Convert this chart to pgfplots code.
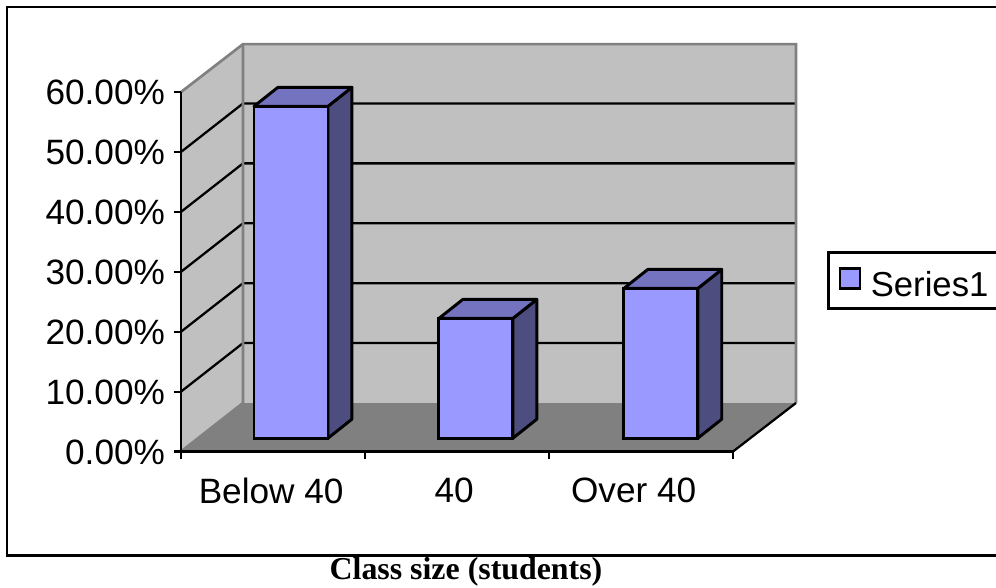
\documentclass[border=0pt]{standalone}
\usepackage{fontspec}
\setmainfont{Liberation Sans}
\newfontfamily\titlefont{Liberation Serif}
\usepackage{pgfplots}
\pgfplotsset{compat=1.18}

\definecolor{wall}{HTML}{C0C0C0}
\definecolor{floorc}{HTML}{808080}
\definecolor{barfront}{HTML}{9999FF}
\definecolor{bartop}{HTML}{7373BF}
\definecolor{barside}{HTML}{4D4D80}

\begin{document}
\begin{tikzpicture}[x=0.75pt,y=0.75pt]
\path[use as bounding box] (0,0) rectangle (996,587);
\draw[line width=2.2pt] (1100,580) -- (7,580) -- (7,31.5) -- (1100,31.5);
\node[font=\titlefont\bfseries\fontsize{23.9}{28}\selectfont] at (466,15) {Class size (students)};
\begin{axis}[
  at={(135.75pt,101.6pt)},
  anchor=south west,
  scale only axis,
  width=414pt,
  height=269.6pt,
  xmin=0, xmax=3,
  ymin=0, ymax=60,
  clip=false,
  axis on top,
  axis lines*=left,
  axis line style={line width=2.2pt},
  tick style={black, line width=1.6pt},
  tick align=outside,
  major tick length=5.5pt,
  ytick={0,10,20,30,40,50,60},
  yticklabels={0.00\%,10.00\%,20.00\%,30.00\%,40.00\%,50.00\%,60.00\%},
  y tick label style={xshift=-3pt, yshift=-0.5pt},
  xtick={0,1,2,3},
  xticklabels={},
  extra x ticks={0.49,1.485,2.46},
  extra x tick labels={Below 40,40,Over 40},
  extra x tick style={major tick length=0pt, tick label style={yshift=-16pt}},
  tick label style={font=\fontsize{26.4}{30}\selectfont},
  legend style={
    at={(axis cs:3.51,33.4)}, anchor=north west,
    draw=black, line width=2.2pt, fill=white,
    font=\fontsize{26}{30}\selectfont,
    inner xsep=8pt, inner ysep=5.5pt,
    legend cell align=left,
  },
  legend image code/.code={
    \path[draw=none, fill=none] (0pt,0pt) -- (21pt,0pt);
    \draw[fill=barfront, draw=black, line width=1.8pt] (0pt,-11pt) rectangle (15pt,4pt);
  },
]
% walls and floor
\addplot[forget plot, fill=wall, draw=none] coordinates {(0.337,8.1) (3.342,8.1) (3.342,68) (0.337,68)} -- cycle;
\addplot[forget plot, fill=wall, draw=none] coordinates {(0,0) (0.337,8.1) (0.337,68) (0,60)} -- cycle;
\addplot[forget plot, fill=floorc, draw=none] coordinates {(0,0) (0.337,8.1) (3.342,8.1) (3,0)} -- cycle;
% gridlines on both walls
\addplot[forget plot, black, line width=1.7pt] coordinates {(0,10) (0.337,18.1) (3.342,18.1)};
\addplot[forget plot, black, line width=1.7pt] coordinates {(0,20) (0.337,28.1) (3.342,28.1)};
\addplot[forget plot, black, line width=1.7pt] coordinates {(0,30) (0.337,38.1) (3.342,38.1)};
\addplot[forget plot, black, line width=1.7pt] coordinates {(0,40) (0.337,48.1) (3.342,48.1)};
\addplot[forget plot, black, line width=1.7pt] coordinates {(0,50) (0.337,58.1) (3.342,58.1)};
% wall borders
\addplot[forget plot, floorc, line width=2pt] coordinates {(0,0) (0.337,8.1) (0.337,68)};
\addplot[forget plot, floorc, line width=2pt] coordinates {(0,60) (0.337,68) (3.342,68) (3.342,8.1)};
\addplot[forget plot, black, line width=1.7pt] coordinates {(3,0) (3.342,8.1)};
% bars, the shift is applied twice by the axis so this is half the depth offset
\begin{scope}[xshift=6.75pt, yshift=5pt]
\addplot[forget plot, fill=barside, draw=black, line width=2.2pt, line join=round] coordinates {(0.701,0) (0.831,3.17) (0.831,58.57) (0.701,55.4)} -- cycle;
\addplot[forget plot, fill=bartop, draw=black, line width=2.2pt, line join=round] coordinates {(0.299,55.4) (0.429,58.57) (0.831,58.57) (0.701,55.4)} -- cycle;
\addplot[forget plot, fill=barside, draw=black, line width=2.2pt, line join=round] coordinates {(1.706,0) (1.836,3.17) (1.836,23.17) (1.706,20)} -- cycle;
\addplot[forget plot, fill=bartop, draw=black, line width=2.2pt, line join=round] coordinates {(1.304,20) (1.434,23.17) (1.836,23.17) (1.706,20)} -- cycle;
\addplot[forget plot, fill=barside, draw=black, line width=2.2pt, line join=round] coordinates {(2.711,0) (2.841,3.17) (2.841,28.17) (2.711,25)} -- cycle;
\addplot[forget plot, fill=bartop, draw=black, line width=2.2pt, line join=round] coordinates {(2.309,25) (2.439,28.17) (2.841,28.17) (2.711,25)} -- cycle;
\addplot[ybar, bar width=55.5pt, fill=barfront, draw=black, line width=2.2pt] coordinates {(0.5,55.4) (1.505,20) (2.51,25)};
\addlegendentry{\rule{0pt}{25pt}Series1\kern12pt}
\end{scope}
\end{axis}
\end{tikzpicture}
\end{document}
